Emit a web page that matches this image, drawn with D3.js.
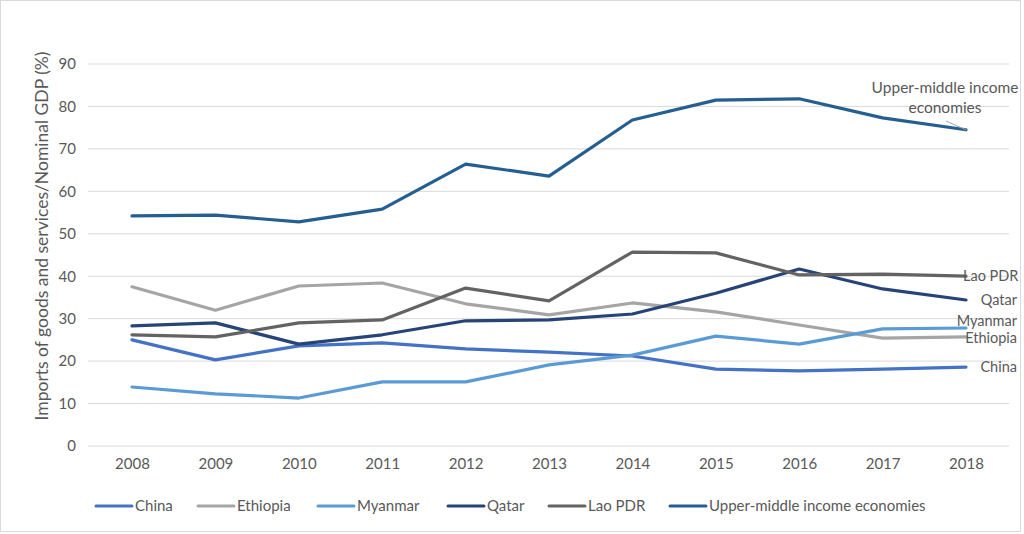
<!DOCTYPE html>
<html>
<head>
<meta charset="utf-8">
<script src="https://cdn.jsdelivr.net/npm/d3@7"></script>
<style>
  body { margin: 0; background: #fff; }
  svg text { font-family: Lato, "Open Sans", sans-serif; fill: #595959; }
</style>
</head>
<body>
<svg id="chart" width="1024" height="534"></svg>
<script>
// years on the x axis
const years = [2008, 2009, 2010, 2011, 2012, 2013, 2014, 2015, 2016, 2017, 2018];
const yTicks = [0, 10, 20, 30, 40, 50, 60, 70, 80, 90];

// imports / nominal GDP
const china = [25.0, 20.3, 23.6, 24.3, 22.9, 22.1, 21.2, 18.1, 17.7, 18.1, 18.6];
const ethiopia = [37.5, 32.0, 37.7, 38.4, 33.5, 30.9, 33.7, 31.6, 28.5, 25.4, 25.7];
const myanmar = [13.9, 12.3, 11.3, 15.1, 15.1, 19.1, 21.4, 25.9, 24.0, 27.6, 27.8];
const qatar = [28.3, 29.0, 24.0, 26.2, 29.5, 29.7, 31.1, 36.0, 41.7, 37.0, 34.4];
const laoPdr = [26.2, 25.7, 29.0, 29.7, 37.2, 34.2, 45.7, 45.5, 40.3, 40.5, 40.0];
const upperMiddle = [54.2, 54.4, 52.8, 55.8, 66.4, 63.6, 76.8, 81.5, 81.8, 77.3, 74.5];

const seriesNames = ['China', 'Ethiopia', 'Myanmar', 'Qatar', 'Lao PDR', 'Upper-middle income economies'];
const seriesValues = [china, ethiopia, myanmar, qatar, laoPdr, upperMiddle];
const colors = ['#4472C4', '#A5A5A5', '#5B9BD5', '#264478', '#636363', '#255E91'];

const svg = d3.select('#chart');

// outer frame
svg.append('rect')
  .attr('x', 0.5).attr('y', 0.5)
  .attr('width', 1020).attr('height', 531)
  .attr('fill', '#fff').attr('stroke', '#d9d9d9');

const x = d3.scalePoint().domain(years).range([132, 966]).padding(0);
const y = d3.scaleLinear().domain([0, 90]).range([446, 64]);

// gridlines
svg.append('g')
  .selectAll('line')
  .data(yTicks)
  .join('line')
  .attr('x1', 88).attr('x2', 1009)
  .attr('y1', d => y(d)).attr('y2', d => y(d))
  .attr('stroke', '#d9d9d9').attr('stroke-width', 1);

// y axis labels
const yAxis = svg.append('g')
  .attr('transform', 'translate(76,0)')
  .call(d3.axisLeft(y).tickValues(yTicks).tickSize(0).tickPadding(0));
yAxis.select('.domain').remove();
yAxis.selectAll('text').style('font-size', '15px').attr('fill', '#595959');

// x axis labels
const xAxis = svg.append('g')
  .attr('transform', 'translate(0,456)')
  .call(d3.axisBottom(x).tickSize(0).tickPadding(2).tickFormat(d3.format('d')));
xAxis.select('.domain').remove();
xAxis.selectAll('text').style('font-size', '15px').attr('fill', '#595959');

// y axis title
svg.append('text')
  .attr('transform', 'translate(48,236) rotate(-90)')
  .attr('text-anchor', 'middle')
  .style('font-size', '17.5px')
  .text('Imports of goods and services/Nominal GDP (%)');

const line = d3.line()
  .x((d, i) => x(years[i]))
  .y(d => y(d));

svg.append('g')
  .selectAll('path')
  .data(seriesValues)
  .join('path')
  .attr('d', d => line(d))
  .attr('fill', 'none')
  .attr('stroke', (d, i) => colors[i])
  .attr('stroke-width', 3.2)
  .attr('stroke-linecap', 'round')
  .attr('stroke-linejoin', 'round');

// end labels
const last = years.length - 1;
const endLabel = (txt, anchor, lx, ly, size) =>
  svg.append('text')
    .attr('x', lx).attr('y', ly)
    .attr('text-anchor', anchor)
    .style('font-size', size || '14.5px')
    .text(txt);

// Upper-middle label with leader line
svg.append('line')
  .attr('x1', 946).attr('y1', 121)
  .attr('x2', x(years[last])).attr('y2', y(upperMiddle[last]))
  .attr('stroke', '#a6a6a6').attr('stroke-width', 1);
endLabel('Upper-middle income', 'middle', 945, 93, '15.5px');
endLabel('economies', 'middle', 945, 113, '15.5px');

endLabel('Lao PDR', 'start', 963, y(laoPdr[last]) + 5);
endLabel('Qatar', 'end', 1017, y(qatar[last]) + 5);
endLabel('Myanmar', 'end', 1017, y(myanmar[last]) - 2);
endLabel('Ethiopia', 'end', 1017, y(ethiopia[last]) + 6);
endLabel('China', 'end', 1017, y(china[last]) + 5);

// legend
const legendX = [95, 197, 317, 447, 548, 669];
const legend = svg.append('g')
  .selectAll('g')
  .data(seriesNames)
  .join('g')
  .attr('transform', (d, i) => `translate(${legendX[i]},506)`);
legend.append('line')
  .attr('x1', 1).attr('x2', 37)
  .attr('stroke', (d, i) => colors[i])
  .attr('stroke-width', 3)
  .attr('stroke-linecap', 'round');
legend.append('text')
  .attr('x', 40).attr('y', 5)
  .style('font-size', '15px')
  .text(d => d);
</script>
</body>
</html>
